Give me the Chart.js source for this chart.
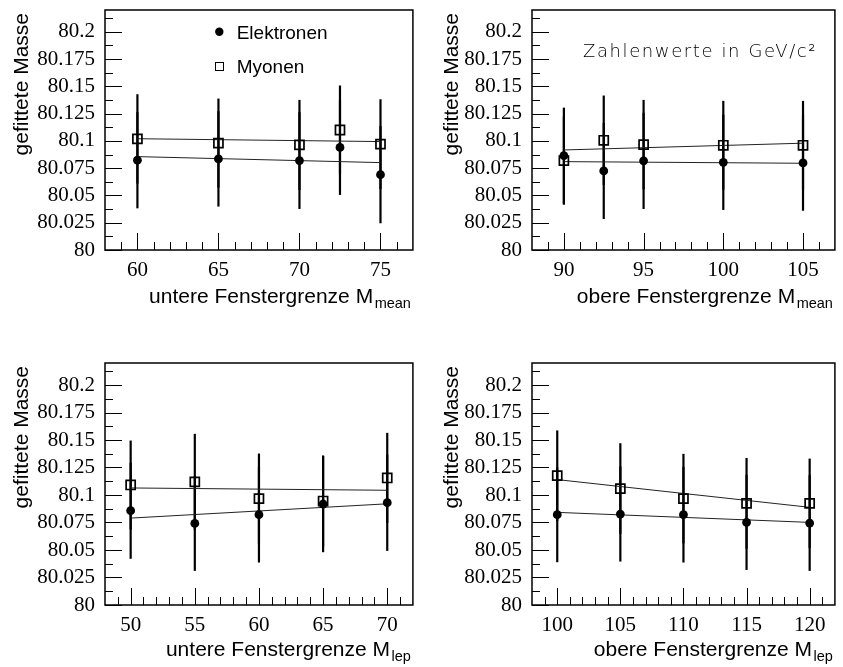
<!DOCTYPE html>
<html>
<head>
<meta charset="utf-8">
<script src="https://cdn.jsdelivr.net/npm/chart.js@4.4.1/dist/chart.umd.min.js"></script>
<style>
  html, body { margin: 0; padding: 0; background: #fff; }
  #page { position: relative; width: 843px; height: 667px; overflow: hidden; }
  canvas { position: absolute; }
</style>
</head>
<body>
<div id="page">
  <canvas id="lowMean" width="421" height="333" style="left:0;top:0"></canvas>
  <canvas id="upMean" width="422" height="333" style="left:421px;top:0"></canvas>
  <canvas id="lowLep" width="421" height="334" style="left:0;top:333px"></canvas>
  <canvas id="upLep" width="422" height="334" style="left:421px;top:333px"></canvas>
</div>
<script>
// fitted W mass (GeV/c^2), same axis in all panels
const yTicks = [80, 80.025, 80.05, 80.075, 80.1, 80.125, 80.15, 80.175, 80.2];
const yMin = 80, yMax = 80.22, yMinorStep = 0.0125;

// lower window edge on M_mean
const xLowMean = [60, 65, 70, 72.5, 75];
const eLowMean = [80.0823, 80.0835, 80.082, 80.094, 80.069];
const eErrLowMean = [0.0441, 0.0437, 0.0444, 0.0435, 0.0445];
const muLowMean = [80.1018, 80.098, 80.0963, 80.110, 80.097];
const muErrLowMean = [0.041, 0.0408, 0.0413, 0.0408, 0.0412];
const fitXLowMean = [60, 75];
const fitELowMean = [80.0856, 80.0801];
const fitMuLowMean = [80.102, 80.0994];
const xTicksLowMean = [60, 65, 70, 75];

// upper window edge on M_mean
const xUpMean = [90, 92.5, 95, 100, 105];
const eUpMean = [80.0865, 80.0725, 80.0817, 80.0804, 80.0798];
const eErrUpMean = [0.044, 0.0441, 0.0441, 0.0437, 0.0438];
const muUpMean = [80.082, 80.1006, 80.0966, 80.096, 80.096];
const muErrUpMean = [0.0405, 0.041, 0.041, 0.0407, 0.0407];
const fitXUpMean = [90, 105];
const fitEUpMean = [80.081, 80.0795];
const fitMuUpMean = [80.0917, 80.0979];
const xTicksUpMean = [90, 95, 100, 105];

// lower window edge on M_lep
const xLowLep = [50, 55, 60, 65, 70];
const eLowLep = [80.0857, 80.0742, 80.0821, 80.0918, 80.093];
const eErrLowLep = [0.0437, 0.0432, 0.0435, 0.0438, 0.0438];
const muLowLep = [80.1091, 80.1119, 80.0967, 80.0945, 80.1155];
const muErrLowLep = [0.0404, 0.0437, 0.041, 0.0414, 0.041];
const fitXLowLep = [50, 70];
const fitELowLep = [80.079, 80.092];
const fitMuLowLep = [80.1064, 80.1043];
const xTicksLowLep = [50, 55, 60, 65, 70];

// upper window edge on M_lep
const xUpLep = [100, 105, 110, 115, 120];
const eUpLep = [80.0821, 80.0827, 80.0821, 80.0751, 80.0745];
const eErrUpLep = [0.0432, 0.0432, 0.0435, 0.0432, 0.0435];
const muUpLep = [80.1176, 80.1058, 80.0967, 80.0924, 80.0924];
const muErrUpLep = [0.0411, 0.0413, 0.0407, 0.0413, 0.0407];
const fitXUpLep = [100, 120];
const fitEUpLep = [80.0842, 80.0751];
const fitMuUpLep = [80.114, 80.0888];
const xTicksUpLep = [100, 105, 110, 115, 120];

const yTitle = 'gefittete Masse';

const panels = [
  { id: 'lowMean', x: xLowMean, e: eLowMean, eErr: eErrLowMean, mu: muLowMean, muErr: muErrLowMean,
    fitX: fitXLowMean, fitE: fitELowMean, fitMu: fitMuLowMean, xTicks: xTicksLowMean,
    xMin: 58, xMax: 77, title: 'untere Fenstergrenze M', sub: 'mean',
    padTop: 10, padRight: 7, yWidth: 105, xHeight: 83, yTitleDx: -83, xTitleDy: 53, legend: true },
  { id: 'upMean', x: xUpMean, e: eUpMean, eErr: eErrUpMean, mu: muUpMean, muErr: muErrUpMean,
    fitX: fitXUpMean, fitE: fitEUpMean, fitMu: fitMuUpMean, xTicks: xTicksUpMean,
    xMin: 88, xMax: 107, title: 'obere Fenstergrenze M', sub: 'mean',
    padTop: 10, padRight: 2, yWidth: 111, xHeight: 83, yTitleDx: -80, xTitleDy: 53, units: true },
  { id: 'lowLep', x: xLowLep, e: eLowLep, eErr: eErrLowLep, mu: muLowLep, muErr: muErrLowLep,
    fitX: fitXLowLep, fitE: fitELowLep, fitMu: fitMuLowLep, xTicks: xTicksLowLep,
    xMin: 48, xMax: 72, title: 'untere Fenstergrenze M', sub: 'lep',
    padTop: 30, padRight: 7, yWidth: 105, xHeight: 62, yTitleDx: -83, xTitleDy: 51 },
  { id: 'upLep', x: xUpLep, e: eUpLep, eErr: eErrUpLep, mu: muUpLep, muErr: muErrUpLep,
    fitX: fitXUpLep, fitE: fitEUpLep, fitMu: fitMuUpLep, xTicks: xTicksUpLep,
    xMin: 98, xMax: 122, title: 'obere Fenstergrenze M', sub: 'lep',
    padTop: 30, padRight: 2, yWidth: 111, xHeight: 62, yTitleDx: -80, xTitleDy: 51 }
];

function points(xs, ys) {
  return xs.map((x, i) => ({ x: x, y: ys[i] }));
}

function fmt(v) {
  return String(parseFloat(v.toFixed(3)));
}

// frame, inward ticks, error bars and axis titles drawn the ROOT way
function rootFrame(p) {
  return {
    id: 'rootFrame',
    beforeDatasetsDraw(chart) {
      const { ctx, scales: { x, y } } = chart;
      ctx.save();
      ctx.strokeStyle = '#000';
      ctx.lineWidth = 2.2;
      chart.data.datasets.forEach(ds => {
        if (!ds.yErr) return;
        ds.data.forEach((pt, i) => {
          const px = x.getPixelForValue(pt.x);
          ctx.beginPath();
          ctx.moveTo(px, y.getPixelForValue(pt.y - ds.yErr[i]));
          ctx.lineTo(px, y.getPixelForValue(pt.y + ds.yErr[i]));
          ctx.stroke();
        });
      });
      ctx.restore();
    },
    afterDraw(chart) {
      const { ctx, chartArea: a, scales: { x, y } } = chart;
      ctx.save();
      ctx.strokeStyle = '#000';
      ctx.fillStyle = '#000';

      ctx.lineWidth = 1;
      ctx.beginPath();
      for (let k = 0; ; k++) {
        const v = yMin + k * yMinorStep;
        if (v > yMax + 1e-9) break;
        const py = Math.round(y.getPixelForValue(v)) + 0.5;
        const len = k % 2 === 0 ? 17 : 8;
        ctx.moveTo(a.left, py);
        ctx.lineTo(a.left + len, py);
      }
      for (let t = Math.ceil(p.xMin) + 1; t < p.xMax; t++) {
        const px = Math.round(x.getPixelForValue(t)) + 0.5;
        const len = t % 5 === 0 ? 17 : 8;
        ctx.moveTo(px, a.bottom);
        ctx.lineTo(px, a.bottom - len);
      }
      ctx.stroke();

      ctx.lineWidth = 1.5;
      ctx.strokeRect(a.left, a.top, a.right - a.left, a.bottom - a.top);

      // y title, rotated, flush with the top of the axis
      ctx.save();
      ctx.font = '21px "Liberation Sans", Arial, sans-serif';
      ctx.translate(a.left + p.yTitleDx, a.top + 3);
      ctx.rotate(-Math.PI / 2);
      ctx.textAlign = 'right';
      ctx.textBaseline = 'middle';
      ctx.fillText(yTitle, 0, 0);
      ctx.restore();

      // x title with subscript, flush with the right end of the axis
      ctx.textBaseline = 'alphabetic';
      ctx.font = '14.5px "Liberation Sans", Arial, sans-serif';
      const subW = ctx.measureText(p.sub).width;
      const subX = a.right - 2 - subW;
      const base = a.bottom + p.xTitleDy;
      ctx.textAlign = 'left';
      ctx.fillText(p.sub, subX, base + 5);
      ctx.font = '21px "Liberation Sans", Arial, sans-serif';
      ctx.textAlign = 'right';
      ctx.fillText(p.title, subX - 1.5, base);

      if (p.legend) {
        ctx.textAlign = 'left';
        ctx.font = '19px "Liberation Sans", Arial, sans-serif';
        ctx.beginPath();
        ctx.arc(a.left + 114.3, a.top + 21.7, 4.2, 0, Math.PI * 2);
        ctx.fill();
        ctx.fillText('Elektronen', a.left + 131.7, a.top + 29);
        ctx.lineWidth = 1;
        ctx.strokeRect(a.left + 110.5, a.top + 52.5, 8, 8);
        ctx.fillText('Myonen', a.left + 131.7, a.top + 63);
      }
      if (p.units) {
        ctx.textAlign = 'left';
        ctx.fillStyle = '#000';
        ctx.font = '200 18px "DejaVu Sans", sans-serif';
        ctx.letterSpacing = '1.6px';
        ctx.fillText('Zahlenwerte in GeV/c\u00B2', a.left + 51, a.top + 46.7);
      }
      ctx.restore();
    }
  };
}

function makeChart(p) {
  const ctx = document.getElementById(p.id).getContext('2d');
  const tickFont = { family: '"Liberation Serif", "Times New Roman", serif', size: 21 };
  return new Chart(ctx, {
    type: 'scatter',
    data: {
      datasets: [
        { label: 'Elektronen', data: points(p.x, p.e), yErr: p.eErr, order: 1,
          pointStyle: 'circle', pointRadius: 4.4, pointBackgroundColor: '#000',
          pointBorderColor: '#000', pointBorderWidth: 0 },
        { label: 'Myonen', data: points(p.x, p.mu), yErr: p.muErr, order: 0,
          pointStyle: 'rect', pointRadius: 6.4, pointBackgroundColor: 'rgba(0,0,0,0)',
          pointBorderColor: '#000', pointBorderWidth: 1.7 },
        { label: 'Fit Elektronen', data: points(p.fitX, p.fitE), order: 2, showLine: true,
          pointRadius: 0, borderColor: '#222', borderWidth: 1 },
        { label: 'Fit Myonen', data: points(p.fitX, p.fitMu), order: 2, showLine: true,
          pointRadius: 0, borderColor: '#222', borderWidth: 1 }
      ]
    },
    options: {
      responsive: false,
      animation: false,
      devicePixelRatio: 1,
      events: [],
      layout: { padding: { left: 0, top: p.padTop, right: p.padRight, bottom: 0 } },
      plugins: { legend: { display: false }, tooltip: { enabled: false } },
      scales: {
        x: {
          type: 'linear', min: p.xMin, max: p.xMax,
          grid: { display: false, drawTicks: false }, border: { display: false },
          ticks: { autoSkip: false, maxRotation: 0, padding: 8, color: '#000', font: tickFont },
          afterBuildTicks: s => { s.ticks = p.xTicks.map(v => ({ value: v })); },
          afterFit: s => { s.height = p.xHeight; s.paddingLeft = 0; s.paddingRight = 0; }
        },
        y: {
          type: 'linear', min: yMin, max: yMax,
          grid: { display: false, drawTicks: false }, border: { display: false },
          ticks: { autoSkip: false, padding: 10, color: '#000', font: tickFont, callback: v => fmt(v) },
          afterBuildTicks: s => { s.ticks = yTicks.map(v => ({ value: v })); },
          afterFit: s => { s.width = p.yWidth; s.paddingTop = 0; s.paddingBottom = 0; }
        }
      }
    },
    plugins: [rootFrame(p)]
  });
}

panels.forEach(makeChart);
</script>
</body>
</html>
